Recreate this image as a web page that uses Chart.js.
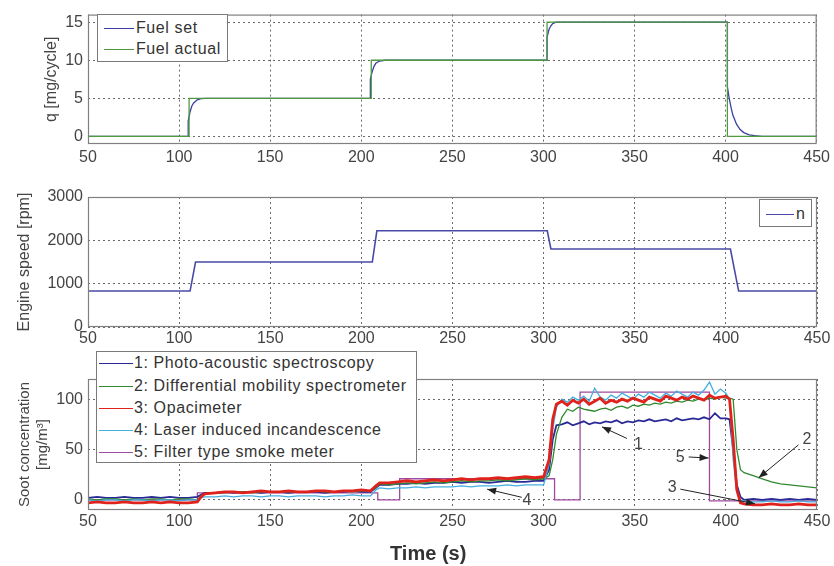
<!DOCTYPE html>
<html>
<head>
<meta charset="utf-8">
<script src="https://cdn.jsdelivr.net/npm/chart.js@4/dist/chart.umd.min.js"></script>
<style>
  html, body { margin: 0; padding: 0; background: #fff; }
  body { width: 834px; height: 566px; position: relative; overflow: hidden;
         font-family: "Liberation Sans", Arial, sans-serif; }
  canvas { position: absolute; left: 0; }
  .legend { position: absolute; background: #fff; border: 1px solid #7a7a7a; box-sizing: border-box; }
  .legend .sw { position: absolute; height: 0; border-top: 1.5px solid; }
  .legend .tx { position: absolute; font-size: 16px; line-height: 18px; color: #333;
                white-space: nowrap; letter-spacing: 0.6px; }
  #xtitle { position: absolute; left: 390px; top: 542px; font-size: 20px; font-weight: bold; color: #333; }
</style>
</head>
<body>
<canvas id="fuel" width="834" height="170" style="top:0px"></canvas>
<canvas id="speed" width="834" height="185" style="top:170px"></canvas>
<canvas id="soot" width="834" height="211" style="top:355px"></canvas>
<div id="xtitle">Time (s)</div>

<script>
// ---- tick labels ----
const timeTicks  = [50, 100, 150, 200, 250, 300, 350, 400, 450];
const fuelTicks  = [0, 5, 10, 15];
const speedTicks = [0, 1000, 2000, 3000];
const sootTicks  = [0, 50, 100];

// ---- fuel quantity [mg/cycle] ----
const fuelSetTime = [50,105,105,106,107,108,110,112,115,120,
                     205,205,206,207,208,210,213,
                     302,302,303,304,305,307,310,
                     401,401,402,403,404,406,408,410,413,416,420,450];
const fuelSetQ    = [0,0,2,3.2,4,4.4,4.8,4.95,5,5,
                     5,7.5,8.5,9.2,9.6,9.9,10,
                     10,13,14,14.5,14.8,15,15,
                     15,6.5,5,3.8,2.8,1.6,0.9,0.5,0.2,0.1,0,0];
const fuelActualTime = [50,105.5,105.5,205.5,205.5,302,302,401,401,450];
const fuelActualQ    = [0,0,5,5,10,10,15,15,0,0];

// ---- engine speed [rpm] ----
const speedTime = [50,106,109,206,208.5,302,304,402.5,407,450];
const speedRpm  = [830,830,1500,1500,2220,2220,1800,1800,830,830];

// ---- soot concentration [mg/m3], instruments 1-4 share one time base ----
const sootTime = [50,55,60,65,70,75,80,85,90,95,100,105,110,
  112,114,
  120,125,130,135,140,145,150,155,160,165,170,175,180,185,190,195,200,205,
  208,210,
  215,220,225,230,235,240,245,250,255,260,265,270,275,280,285,290,295,300,
  303,305,307,
  310,313,316,319,322,325,328,331,334,337,340,343,346,349,352,355,358,361,364,367,370,373,376,379,382,385,388,391,394,397,400,
  402,404,406,408,410,
  415,420,425,430,435,440,445,450];

const pasSoot = [2,3,2,2,3,2,2,3,2,3,2,2,3,
  5,7,
  7,8,7,8,8,7,8,8,7,8,8,8,7,8,8,9,8,8,
  12,15,
  15,16,16,17,16,17,17,18,17,18,18,17,18,19,18,18,19,19,
  30,60,74,
  75,77,74,76,78,75,77,76,78,77,79,76,78,77,79,78,80,78,79,80,78,81,79,80,81,80,82,80,86,81,81,
  80,50,15,3,0,
  1,0,1,0,1,0,1,0];

const dmsSoot = [1,0,1,1,0,1,0,1,1,0,1,1,0,
  4,6,
  7,7,8,8,7,8,8,8,8,8,8,9,8,8,9,8,9,9,
  12,16,
  15,16,17,16,17,18,17,18,19,18,19,19,20,19,20,21,20,21,
  24,40,65,
  82,90,88,92,90,89,88,90,91,89,92,93,91,94,93,95,94,96,95,97,96,98,97,99,98,100,99,101,100,102,101,
  101,100,50,30,27,
  24,21,18,16,15,14,13,12];

const opacSoot = [-3,-2,-3,-3,-2,-3,-3,-2,-3,-2,-3,-3,-2,
  3,6,
  7,8,8,7,8,9,8,8,9,8,8,9,9,8,9,9,10,9,
  14,17,
  17,18,19,18,19,20,19,20,21,20,21,21,22,21,22,23,22,23,
  40,80,95,
  98,94,99,96,100,95,98,101,96,99,97,100,98,101,99,97,102,100,98,103,101,99,102,100,103,101,99,104,101,102,103,
  100,60,10,-3,-4,
  -5,-5,-4,-5,-5,-4,-5,-5];

const liiSoot = [0,-1,0,0,-1,0,0,-1,0,0,-1,0,0,
  2,3,
  3,4,3,4,4,3,4,4,3,4,4,4,3,4,4,5,4,4,
  10,12,
  11,12,12,13,12,13,13,13,14,13,14,14,14,15,14,15,15,15,
  35,70,92,
  100,97,102,99,103,98,111,102,99,104,101,106,103,100,105,102,107,104,101,106,103,108,105,102,107,104,109,117,105,110,106,
  100,40,8,0,-1,
  -2,-2,-1,-2,-2,-1,-2,-2];

// filter smoke meter gives one averaged value per sampling period
const filterTime = [50,110,110,209,209,221,221,306,306,320,320,391,391,450];
const filterSoot = [0,0,7,7,0,0,21,21,0,0,107,107,-1,-1];

// ---- numbered callouts on the soot plot (data coordinates) ----
const markText  = ['1', '2', '3', '4', '5'];
const markTextX = [352, 444.5, 370.5, 290.8, 375];
const markTextY = [54.6, 59.5, 12.4, -0.7, 41.6];
const markFromX = [345.7, 439.8, 375, 288, 379.6];
const markFromY = [61, 54.6, 10.7, 2.6, 42.6];
const markTipX  = [332, 418, 416, 269, 390.5];
const markTipY  = [72.5, 22, -3.9, 10.7, 41.6];

const FONT = '"Liberation Sans", Arial, sans-serif';
Chart.defaults.font.family = FONT;

function xy(ts, vs) { return ts.map((t, i) => ({ x: t, y: vs[i] })); }

function series(label, ts, vs, color, width, order) {
  return { label, data: xy(ts, vs), borderColor: color, backgroundColor: color,
           borderWidth: width, pointRadius: 0, tension: 0, fill: false, order };
}

// solid frame around each plot area
const axesBox = {
  id: 'axesBox',
  afterDatasetsDraw(chart) {
    const a = chart.chartArea, c = chart.ctx;
    c.save();
    c.strokeStyle = '#808080';
    c.lineWidth = 1.2;
    c.strokeRect(a.left + 0.5, a.top + 0.5, a.right - a.left - 1, a.bottom - a.top - 1);
    c.restore();
  }
};

// arrows with instrument numbers
const callouts = {
  id: 'callouts',
  afterDatasetsDraw(chart) {
    const xs = chart.scales.x, ys = chart.scales.y, c = chart.ctx;
    c.save();
    c.strokeStyle = '#222';
    c.fillStyle = '#222';
    c.lineWidth = 1;
    markText.forEach((t, i) => {
      const fx = xs.getPixelForValue(markFromX[i]), fy = ys.getPixelForValue(markFromY[i]);
      const tx = xs.getPixelForValue(markTipX[i]),  ty = ys.getPixelForValue(markTipY[i]);
      c.beginPath(); c.moveTo(fx, fy); c.lineTo(tx, ty); c.stroke();
      const ang = Math.atan2(ty - fy, tx - fx), L = 9, W = 3.5;
      c.beginPath();
      c.moveTo(tx, ty);
      c.lineTo(tx - L * Math.cos(ang) + W * Math.sin(ang), ty - L * Math.sin(ang) - W * Math.cos(ang));
      c.lineTo(tx - L * Math.cos(ang) - W * Math.sin(ang), ty - L * Math.sin(ang) + W * Math.cos(ang));
      c.closePath(); c.fill();
    });
    c.fillStyle = '#444';
    c.font = '16px ' + FONT;
    c.textAlign = 'center';
    c.textBaseline = 'middle';
    markText.forEach((t, i) => {
      c.fillText(t, xs.getPixelForValue(markTextX[i]), ys.getPixelForValue(markTextY[i]));
    });
    c.restore();
  }
};

function makeChart(id, datasets, o) {
  return new Chart(document.getElementById(id), {
    type: 'line',
    data: { datasets },
    plugins: [axesBox].concat(o.plugins || []),
    options: {
      responsive: false, animation: false, events: [],
      layout: { padding: { top: o.padTop, right: 17, left: 0, bottom: 0 } },
      plugins: { legend: { display: false }, tooltip: { enabled: false } },
      scales: {
        x: {
          type: 'linear', min: 50, max: 450,
          afterBuildTicks: s => { s.ticks = timeTicks.map(v => ({ value: v })); },
          afterFit: s => { s.height = o.xHeight; },
          ticks: { color: '#444', font: { size: 16 }, padding: o.xPad, maxRotation: 0,
                   callback: v => String(v) },
          grid: { color: '#6a6a6a', lineWidth: 1, drawTicks: false },
          border: { display: false, dash: [2, 3] }
        },
        y: {
          type: 'linear', min: o.yMin, max: o.yMax,
          afterBuildTicks: s => { s.ticks = o.yTicks.map(v => ({ value: v })); },
          afterFit: s => { s.width = 88; },
          ticks: { color: '#444', font: { size: 16 }, padding: 5, callback: v => String(v) },
          grid: { color: '#6a6a6a', lineWidth: 1, drawTicks: false },
          border: { display: false, dash: [2, 3] },
          title: { display: true, text: o.yTitle, color: '#444',
                   font: { size: o.titleSize, lineHeight: 1.2 },
                   padding: { top: o.titlePad, bottom: 0 } }
        }
      }
    }
  });
}

makeChart('fuel', [
  series('Fuel set', fuelSetTime, fuelSetQ, '#3b3fa0', 1.3, 1),
  series('Fuel actual', fuelActualTime, fuelActualQ, '#4f9a3f', 1.3, 0)
], { padTop: 13, xHeight: 26, xPad: 4, yMin: -1, yMax: 16, yTicks: fuelTicks,
     yTitle: 'q [mg/cycle]', titleSize: 16, titlePad: 42 });

makeChart('speed', [
  series('n', speedTime, speedRpm, '#4a4aa6', 1.6, 0)
], { padTop: 27, xHeight: 28, xPad: 2, yMin: 0, yMax: 3000, yTicks: speedTicks,
     yTitle: 'Engine speed [rpm]', titleSize: 16, titlePad: 15 });

const sootNames = ['1: Photo-acoustic spectroscopy', '2: Differential mobility spectrometer',
                   '3: Opacimeter', '4: Laser induced incandescence', '5: Filter type smoke meter'];
const sootColors = ['#2a2a96', '#2f8a2f', '#e0221c', '#45aee0', '#a04aa0'];

makeChart('soot', [
  series(sootNames[0], sootTime, pasSoot,  sootColors[0], 1.8, 3),
  series(sootNames[1], sootTime, dmsSoot,  sootColors[1], 1.3, 2),
  series(sootNames[2], sootTime, opacSoot, sootColors[2], 2.8, 0),
  series(sootNames[3], sootTime, liiSoot,  sootColors[3], 1.3, 1),
  series(sootNames[4], filterTime, filterSoot, sootColors[4], 1.3, 5)
], { padTop: 24, xHeight: 56, xPad: 2, yMin: -10, yMax: 120, yTicks: sootTicks,
     yTitle: ['Soot concentration', '[mg/m³]'], titleSize: 15, titlePad: 16,
     plugins: [callouts] });

// legends drawn inside the plot frames
function legend(left, top, width, height, names, colors, rowY, swLeft, swWidth, txLeft) {
  const box = document.createElement('div');
  box.className = 'legend';
  Object.assign(box.style, { left: left + 'px', top: top + 'px', width: width + 'px', height: height + 'px' });
  names.forEach((n, i) => {
    const sw = document.createElement('div');
    sw.className = 'sw';
    Object.assign(sw.style, { left: swLeft + 'px', top: (rowY[i] - 1) + 'px', width: swWidth + 'px', borderTopColor: colors[i] });
    const tx = document.createElement('div');
    tx.className = 'tx';
    tx.textContent = n;
    Object.assign(tx.style, { left: txLeft + 'px', top: (rowY[i] - 10) + 'px' });
    box.appendChild(sw); box.appendChild(tx);
  });
  document.body.appendChild(box);
}

legend(97, 14, 131, 48, ['Fuel set', 'Fuel actual'], ['#3b3fa0', '#4f9a3f'], [14, 35], 6, 30, 38);
legend(759, 199, 53, 28, ['n'], ['#4a4aa6'], [15], 6, 28, 36);
legend(96, 351, 321, 112, sootNames, sootColors, [12, 35, 57, 79, 101], 2, 34, 37);
</script>
</body>
</html>
